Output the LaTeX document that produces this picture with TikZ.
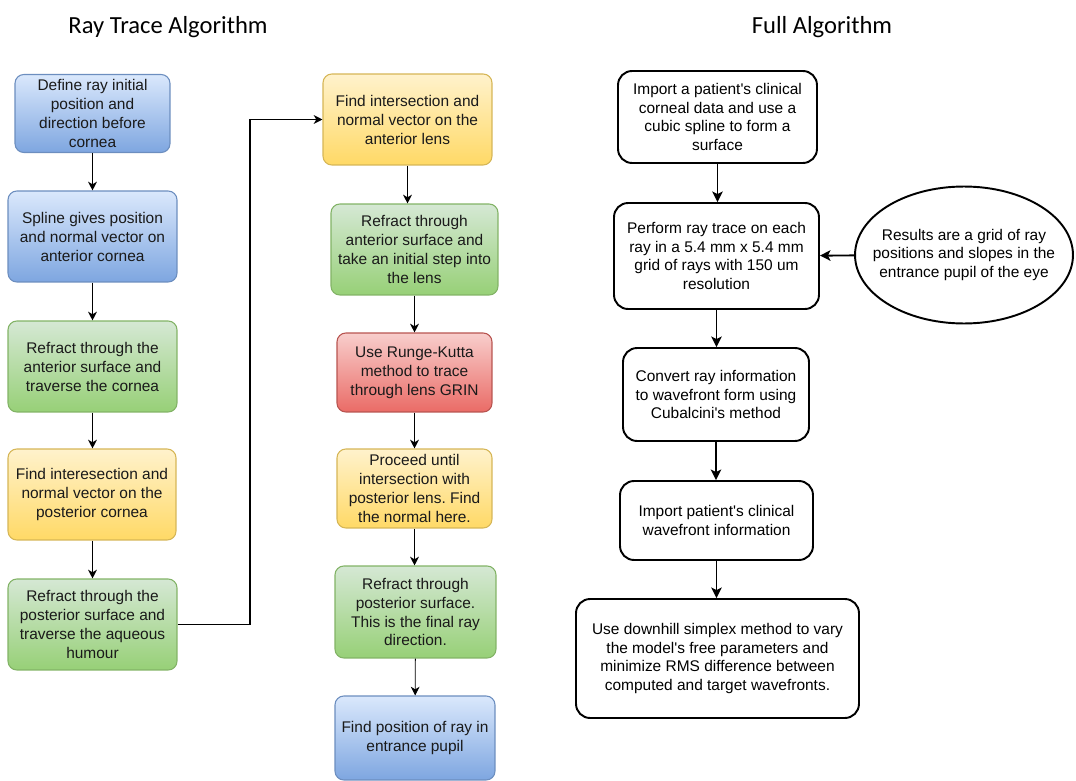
\documentclass[tikz,border=0pt]{standalone}
\usepackage{fontspec}
\setmainfont{Liberation Sans}
\newfontfamily\titlefont{Carlito}
\usetikzlibrary{arrows.meta, shapes.geometric}
\definecolor{BT}{HTML}{DAE8FC}
\definecolor{BD}{HTML}{7EA6E0}
\definecolor{BB}{HTML}{6C8EBF}
\definecolor{GT}{HTML}{D5E8D4}
\definecolor{GD}{HTML}{97D077}
\definecolor{GB}{HTML}{82B366}
\definecolor{YT}{HTML}{FFF2CC}
\definecolor{YD}{HTML}{FFD966}
\definecolor{YB}{HTML}{D6B656}
\definecolor{RT}{HTML}{F8CECC}
\definecolor{RD}{HTML}{EA6B66}
\definecolor{RB}{HTML}{B85450}
\definecolor{TX}{HTML}{1A1A1A}
\newcommand{\ap}{\textquotesingle}
\frenchspacing

\tikzset{
  box/.style={rounded corners=5pt, draw, line width=0.6pt, align=center,
    text=TX, inner sep=2pt, font=\fontsize{8.8}{10.8}\selectfont},
  bluebox/.style={box, draw=BB, top color=BT, bottom color=BD},
  greenbox/.style={box, draw=GB, top color=GT, bottom color=GD},
  yellowbox/.style={box, draw=YB, top color=YT, bottom color=YD},
  redbox/.style={box, draw=RB, top color=RT, bottom color=RD},
  plainbox/.style={rounded corners=8pt, draw=black, line width=1.1pt, fill=white,
    align=center, inner sep=2pt, font=\fontsize{8.8}{10.5}\selectfont},
  flow/.style={-{Stealth[length=5pt,width=5pt,inset=1.5pt]}, line width=0.7pt},
  bigflow/.style={-{Stealth[length=6pt,width=6pt,inset=1.5pt]}, line width=1.1pt},
  heading/.style={font=\titlefont\fontsize{14}{16}\selectfont}
}

\begin{document}
\begin{tikzpicture}[x=0.02cm, y=-0.02cm]
\useasboundingbox (0,0) rectangle (1076,781);

% Titles
\node[heading] (tleft)  at (168,27) {Ray Trace Algorithm};
\node[heading] (tright) at (822,27) {Full Algorithm};

% Ray trace: first column
\node[bluebox, minimum width=3.1cm, minimum height=1.56cm] (b1) at (92.5,113.5)
  {Define ray initial\\position and\\direction before\\cornea};
\node[bluebox, minimum width=3.38cm, minimum height=1.82cm] (b2) at (92.5,236.5)
  {Spline gives position\\and normal vector on\\anterior cornea};
\node[greenbox, minimum width=3.38cm, minimum height=1.82cm] (b3) at (92.5,366.5)
  {Refract through the\\anterior surface and\\traverse the cornea};
\node[yellowbox, minimum width=3.36cm, minimum height=1.82cm] (b4) at (92,494.5)
  {Find interesection and\\normal vector on the\\posterior cornea};
\node[greenbox, minimum width=3.38cm, minimum height=1.82cm] (b5) at (92.5,624.5)
  {Refract through the\\posterior surface and\\traverse the aqueous\\humour};

% Ray trace: second column
\node[yellowbox, minimum width=3.38cm, minimum height=1.82cm] (m1) at (407.5,119.5)
  {Find intersection and\\normal vector on the\\anterior lens};
\node[greenbox, minimum width=3.34cm, minimum height=1.82cm] (m2) at (414.5,249.5)
  {Refract through\\anterior surface and\\take an initial step into\\the lens};
\node[redbox, minimum width=3.1cm, minimum height=1.58cm] (m3) at (414.5,372.5)
  {Use Runge-Kutta\\method to trace\\through lens GRIN};
\node[yellowbox, minimum width=3.1cm, minimum height=1.58cm] (m4) at (414.5,488.5)
  {Proceed until\\intersection with\\posterior lens. Find\\the normal here.};
\node[greenbox, minimum width=3.22cm, minimum height=1.84cm] (m5) at (415.5,612)
  {Refract through\\posterior surface.\\This is the final ray\\direction.};
\node[bluebox, minimum width=3.2cm, minimum height=1.68cm] (m6) at (415,738)
  {Find position of ray in\\entrance pupil};

% Full algorithm
\node[plainbox, minimum width=3.98cm, minimum height=1.84cm] (r1) at (717.5,117)
  {Import a patient\ap s clinical\\corneal data and use a\\cubic spline to form a\\surface};
\node[plainbox, minimum width=4.1cm, minimum height=2.12cm] (r2) at (716.5,256)
  {Perform ray trace on each\\ray in a 5.4 mm x 5.4 mm\\grid of rays with 150 um\\resolution};
\node[ellipse, draw=black, line width=1.1pt, align=center,
  inner xsep=-8pt, inner ysep=0pt,
  minimum width=4.28cm, minimum height=2.74cm,
  font=\fontsize{8.8}{10.5}\selectfont] (res) at (964,255)
  {Results are a grid of ray\\positions and slopes in the\\entrance pupil of the eye};
\node[plainbox, minimum width=3.72cm, minimum height=1.86cm] (r3) at (716,394.5)
  {Convert ray information\\to wavefront form using\\Cubalcini\ap s method};
\node[plainbox, minimum width=3.86cm, minimum height=1.58cm] (r4) at (716.5,520.5)
  {Import patient\ap s clinical\\wavefront information};
\node[plainbox, minimum width=5.66cm, minimum height=2.38cm] (r5) at (717.5,658.5)
  {Use downhill simplex method to vary\\the model\ap s free parameters and\\minimize RMS difference between\\computed and target wavefronts.};

% Connectors
\draw[flow] (b1) -- (b2);
\draw[flow] (b2) -- (b3);
\draw[flow] (b3) -- (b4.north -| b3);
\draw[flow] (b4.south -| b5) -- (b5);
\draw[flow] (b5.east) -- (250,624.5) |- (m1.west);
\draw[flow] (m1.south) -- (m1.south |- m2.north);
\draw[flow] (m2) -- (m3);
\draw[flow] (m3) -- (m4);
\draw[flow] (m4) -- (m4.south |- m5.north);
\draw[flow, line width=0.5pt] (m5) -- (m6);

\draw[bigflow] (r1) -- (r1.south |- r2.north);
\draw[bigflow] (r2) -- (r2.south |- r3.north);
\draw[bigflow] (r3) -- (r3.south |- r4.north);
\draw[bigflow] (r4) -- (r4.south |- r5.north);
\draw[bigflow] (res) -- (r2);
\end{tikzpicture}
\end{document}
